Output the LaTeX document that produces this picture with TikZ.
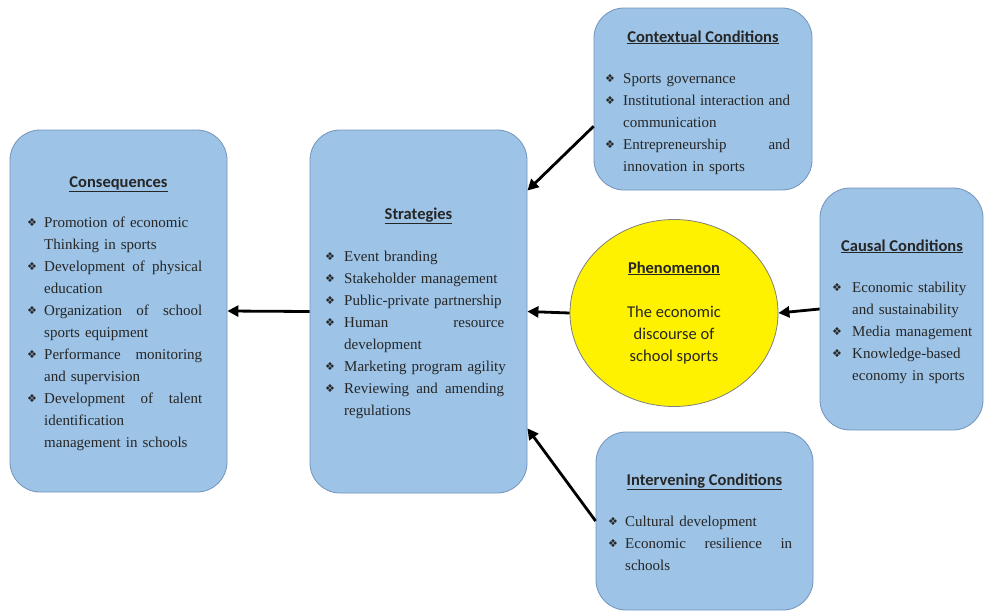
\documentclass[tikz,border=0pt]{standalone}
\usepackage{fontspec}
\setmainfont{Liberation Serif}
\newfontfamily\hdfont{Carlito}
\newfontfamily\symfont{DejaVu Sans}
\usetikzlibrary{shapes.geometric,arrows.meta}
\definecolor{boxfill}{HTML}{9DC3E6}
\definecolor{boxline}{HTML}{7393BC}
\definecolor{txt}{HTML}{262626}
\newlength{\hangw}
\newlength{\jw}
\newcommand{\bsym}{\makebox[\hangw][l]{\raisebox{1pt}{\symfont\fontsize{11}{11}\selectfont ❖}}}
\newcommand{\bl}[1]{\noindent\bsym\mbox{#1}\par}
\newcommand{\bj}[1]{\noindent\bsym\hbox to\jw{#1}\par}
\newcommand{\cl}[1]{\noindent\hspace*{\hangw}\mbox{#1}\par}
\tikzset{
  box/.style={draw=boxline, line width=0.8pt, fill=boxfill, rounded corners=30pt, inner sep=0pt},
  head/.style={anchor=base, inner sep=0pt, text=txt, font=\hdfont\bfseries\fontsize{16.5}{20}\selectfont},
  list/.style={anchor=base west, inner sep=0pt, text=txt, text width=#1, font=\fontsize{15}{22}\selectfont},
  arr/.style={line width=2.8pt, -{Triangle[length=11pt,width=11pt]}},
}
\begin{document}
\begin{tikzpicture}[x=1pt,y=-1pt]
\useasboundingbox (0,0) rectangle (985,611);
% boxes
\node[box, minimum width=218pt, minimum height=182pt] (ctx) at (703,99) {};
\node[box, minimum width=163pt, minimum height=242pt] (cau) at (901.5,309) {};
\node[box, minimum width=217pt, minimum height=178pt] (int) at (704.5,521) {};
\node[box, minimum width=217pt, minimum height=363pt] (str) at (418.5,311.5) {};
\node[box, minimum width=217pt, minimum height=362pt] (con) at (118.5,311) {};
\node[ellipse, draw=gray, line width=0.8pt, fill=yellow, minimum width=208pt, minimum height=187pt, inner sep=0pt] (phe) at (674,313) {};
% headings
\node[head] (ctxh) at (703,42) {\underline{Contextual Conditions}};
\node[head] (cauh) at (902,251) {\underline{Causal Conditions}};
\node[head] (inth) at (704.5,485) {\underline{Intervening Conditions}};
\node[head] (strh) at (418.5,219) {\underline{Strategies}};
\node[head] (conh) at (118.5,187) {\underline{Consequences}};
\node[head] (pheh) at (674,273) {\underline{Phenomenon}};
\node[anchor=base, inner sep=0pt, text=txt, align=center, font=\hdfont\fontsize{16.5}{22}\selectfont] (phet) at (674,361) {The economic\\discourse of\\school sports};
% lists
\node[list=190pt] (ctxl) at (605,83) {\setlength{\hangw}{18pt}\setlength{\jw}{167pt}%
\bl{Sports governance}%
\bj{Institutional\hfill interaction\hfill and}%
\cl{communication}%
\bj{Entrepreneurship\hfill and}%
\cl{innovation in sports}};
\node[list=145pt] (caul) at (832,292) {\setlength{\hangw}{20pt}\setlength{\jw}{120pt}%
\bl{Economic stability}%
\cl{and sustainability}%
\bl{Media management}%
\bl{Knowledge-based}%
\cl{economy in sports}};
\node[list=190pt] (intl) at (608,526) {\setlength{\hangw}{17pt}\setlength{\jw}{167pt}%
\bl{Cultural development}%
\bj{Economic\hfill resilience\hfill in}%
\cl{schools}};
\node[list=185pt] (strl) at (325,261) {\setlength{\hangw}{19pt}\setlength{\jw}{160pt}%
\bl{Event branding}%
\bl{Stakeholder management}%
\bl{Public-private partnership}%
\bj{Human\hfill resource}%
\cl{development}%
\bl{Marketing program agility}%
\bj{Reviewing\hfill and\hfill amending}%
\cl{regulations}};
\node[list=180pt] (conl) at (27,227) {\setlength{\hangw}{17pt}\setlength{\jw}{158pt}%
\bl{Promotion of economic}%
\cl{Thinking in sports}%
\bj{Development\hfill of\hfill physical}%
\cl{education}%
\bj{Organization\hfill of\hfill school}%
\cl{sports equipment}%
\bj{Performance\hfill monitoring}%
\cl{and supervision}%
\bj{Development\hfill of\hfill talent}%
\cl{identification}%
\cl{management in schools}};
% connectors
\draw[arr] (ctx.194) -- (str.48);
\draw[arr] (int.west) -- (str.-47.5);
\draw[arr] (phe.west) -- (str.east);
\draw[arr] (cau.west) -- (phe.east);
\draw[arr] (str.west) -- (con.east);
\end{tikzpicture}
\end{document}
